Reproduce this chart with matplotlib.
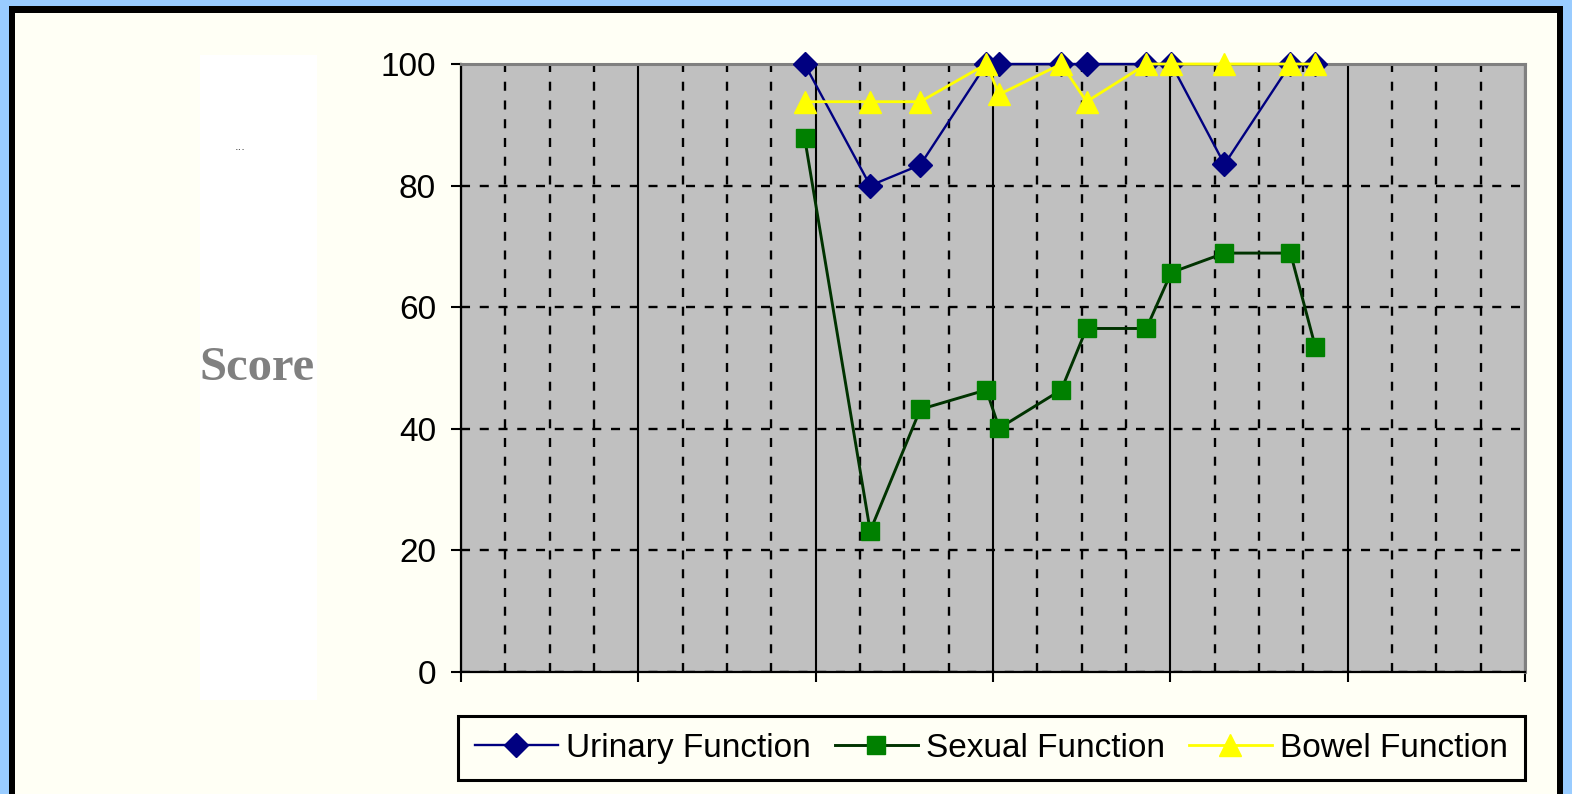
import matplotlib
matplotlib.use("Agg")
import matplotlib.pyplot as plt
from matplotlib.patches import Rectangle
from matplotlib.ticker import MultipleLocator

# data -----------------------------------------------------------------
visit_time = [7.75, 9.23, 10.36, 11.85, 12.14, 13.54, 14.11, 15.46, 16.02, 17.22, 18.71, 19.27]
urinary = [100, 80, 83.4, 100, 100, 100, 100, 100, 100, 83.5, 100, 100]
sexual = [87.9, 23.2, 43.2, 46.4, 40.1, 46.4, 56.5, 56.5, 65.7, 68.9, 68.9, 53.5]
bowel = [93.8, 93.8, 93.8, 100, 95, 100, 93.8, 100, 100, 100, 100, 100]
series_names = ["Urinary Function", "Sexual Function", "Bowel Function"]
y_ticks = [0, 20, 40, 60, 80, 100]

plt.rcParams["lines.scale_dashes"] = False
W, H = 1572, 794
fig = plt.figure(figsize=(W / 100, H / 100), dpi=100, facecolor="#99CCFF")

# frame: blue outside, black band, cream inside
fig.patches.append(Rectangle((9 / W, 0), (W - 18) / W, 1 - 6 / H, transform=fig.transFigure,
                             facecolor="black", edgecolor="none", zorder=-3))
fig.patches.append(Rectangle((15 / W, 0), (W - 30) / W, 1 - 12.5 / H, transform=fig.transFigure,
                             facecolor="#FFFFF5", edgecolor="none", zorder=-2))
# white panel holding the axis title
fig.patches.append(Rectangle((200 / W, 1 - 700 / H), 117 / W, 645 / H, transform=fig.transFigure,
                             facecolor="white", edgecolor="none", zorder=-1))
fig.text(240 / W, 1 - 147 / H, "...", fontsize=8, color="#333333", ha="center", va="center")
fig.text(256.5 / W, 1 - 368 / H, "Score", fontsize=35, fontweight="bold", color="#808080",
         family="Liberation Serif", ha="center", va="center")

ax = fig.add_axes([461 / W, 1 - 672 / H, (1525 - 461) / W, (672 - 64) / H])
ax.set_zorder(2)
ax.set_facecolor("#C0C0C0")
ax.set_xlim(0, 24)
ax.set_ylim(0, 100)
ax.set_yticks(y_ticks)
ax.set_yticklabels([str(v) for v in y_ticks], family="Liberation Sans", fontsize=24)
ax.xaxis.set_major_locator(MultipleLocator(4))
ax.xaxis.set_minor_locator(MultipleLocator(1))
ax.set_xticklabels([])
ax.tick_params(axis="both", which="major", direction="out", length=7, width=1.5, color="black", pad=11)
ax.tick_params(axis="x", which="minor", length=0)
ax.set_axisbelow(True)

# gridlines: solid at major x, dashed at minor x and at y ticks
dash = (0, (6.5, 7.0))
ax.xaxis.grid(True, which="major", color="black", lw=1.5, ls="-")
ax.xaxis.grid(True, which="minor", color="black", lw=1.7, ls=dash)
ax.yaxis.grid(True, which="major", color="black", lw=1.7, ls=dash)

for side in ["left", "bottom"]:
    ax.spines[side].set_color("black")
    ax.spines[side].set_linewidth(1.6)
for side in ["top", "right"]:
    ax.spines[side].set_color("#808080")
    ax.spines[side].set_linewidth(2.2)

l1, = ax.plot(visit_time, urinary, color="#000080", lw=1.7, marker="D", ms=12,
              mfc="#000080", mec="#000080", clip_on=False, zorder=3)
l2, = ax.plot(visit_time, sexual, color="#003300", lw=2.1, marker="s", ms=13.5,
              mfc="#008000", mec="#008000", clip_on=False, zorder=4)
l3, = ax.plot(visit_time, bowel, color="#FFFF00", lw=2.0, marker="^", ms=16,
              mfc="#FFFF00", mec="#FFFF00", clip_on=False, zorder=5)

leg = fig.legend([l1, l2, l3], series_names, loc="upper left", ncol=3, mode="expand",
                 bbox_to_anchor=(458 / W, 1 - 716 / H, (1525 - 458) / W, 0),
                 prop={"family": "Liberation Sans", "size": 24}, numpoints=1,
                 handlelength=2.5, handletextpad=0.25, borderaxespad=0, borderpad=0.5,
                 fancybox=False, frameon=True, facecolor="#FFFFF5", edgecolor="black",
                 framealpha=1)
leg.get_frame().set_linewidth(2.2)

fig.savefig("out.png", dpi=100, facecolor=fig.get_facecolor())
